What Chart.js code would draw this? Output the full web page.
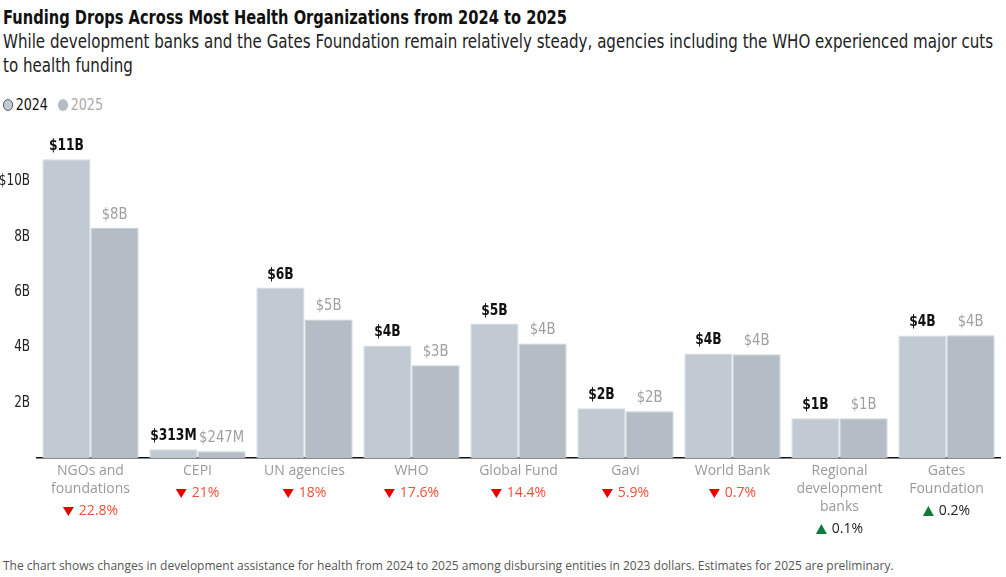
<!DOCTYPE html>
<html>
<head>
<meta charset="utf-8">
<script src="https://cdn.jsdelivr.net/npm/chart.js@4.4.1/dist/chart.umd.min.js"></script>
<style>
  body { margin: 0; background: #fff; width: 1006px; height: 577px; position: relative; overflow: hidden; font-family: "DejaVu Sans", sans-serif; }
  .fit { position: absolute; left: 3px; white-space: nowrap; transform-origin: 0 0; }
  #title { top: 5px; font-size: 20px; font-weight: bold; color: #111; }
  #sub1, #sub2 { font-size: 19px; color: #222; }
  #sub1 { top: 30px; }
  #sub2 { top: 54px; }
  #legend { top: 96px; font-size: 15px; display: flex; align-items: center; }
  .dot { width: 12px; height: 12px; border-radius: 50%; display: inline-block; margin-right: 3px; box-sizing: border-box; }
  #foot { position: absolute; left: 3px; top: 557px; font-family: "Open Sans", sans-serif; font-size: 12px; color: #555; white-space: nowrap; }
  #wrap { position: absolute; left: 0; top: 113px; width: 1006px; height: 427px; }
</style>
</head>
<body>
<div id="title" class="fit">Funding Drops Across Most Health Organizations from 2024 to 2025</div>
<div id="sub1" class="fit">While development banks and the Gates Foundation remain relatively steady, agencies including the WHO experienced major cuts</div>
<div id="sub2" class="fit">to health funding</div>
<div id="legend" class="fit">
  <span class="dot" style="background:#c1cad3;border:1px solid #555"></span><span style="color:#111">2024</span>
  <span class="dot" style="background:#b4bdc6;margin-left:12px"></span><span style="color:#aaa">2025</span>
</div>
<div id="wrap"><canvas id="chart"></canvas></div>
<div id="foot">The chart shows changes in development assistance for health from 2024 to 2025 among disbursing entities in 2023 dollars. Estimates for 2025 are preliminary.</div>
<script>
var categories = [
  ["NGOs and", "foundations"],
  ["CEPI"],
  ["UN agencies"],
  ["WHO"],
  ["Global Fund"],
  ["Gavi"],
  ["World Bank"],
  ["Regional", "development", "banks"],
  ["Gates", "Foundation"]
];
var values2024 = [10.8, 0.313, 6.16, 4.07, 4.86, 1.80, 3.78, 1.44, 4.43];
var values2025 = [8.32, 0.247, 5.01, 3.35, 4.14, 1.69, 3.75, 1.44, 4.44];
var labels2024 = ["$11B", "$313M", "$6B", "$4B", "$5B", "$2B", "$4B", "$1B", "$4B"];
var labels2025 = ["$8B", "$247M", "$5B", "$3B", "$4B", "$2B", "$4B", "$1B", "$4B"];
var changes = ["22.8%", "21%", "18%", "17.6%", "14.4%", "5.9%", "0.7%", "0.1%", "0.2%"];
var changeUp = [false, false, false, false, false, false, false, true, true];
var yTicks = [2, 4, 6, 8, 10];
var yTickLabels = ["2B", "4B", "6B", "8B", "$10B"];

// squeeze the header text to look like the condensed face of the original
function fitWidth(ids, target) {
  var w = document.getElementById(ids[0]).getBoundingClientRect().width;
  var s = target / w;
  ids.forEach(function(id) { document.getElementById(id).style.transform = 'scaleX(' + s + ')'; });
}
fitWidth(['title'], 564);
fitWidth(['sub1', 'sub2'], 990);
fitWidth(['legend'], 100);

var LINE = 18;
var catFont = '14px "Open Sans", sans-serif';

function squeezeText(ctx, txt, x, y, sx) {
  ctx.save();
  ctx.translate(x, y);
  ctx.scale(sx, 1);
  ctx.fillText(txt, 0, 0);
  ctx.restore();
}

var labelPlugin = {
  id: 'labelPlugin',
  afterDatasetsDraw: function(chart) {
    var ctx = chart.ctx;
    ctx.save();
    // y tick labels, placed by the y scale
    var ys = chart.scales.y;
    ctx.textAlign = 'right';
    ctx.textBaseline = 'middle';
    ctx.font = '15px "DejaVu Sans", sans-serif';
    ctx.fillStyle = '#222';
    yTicks.forEach(function(v, i) {
      squeezeText(ctx, yTickLabels[i], 30, ys.getPixelForValue(v), 0.8);
    });

    ctx.textAlign = 'center';
    ctx.textBaseline = 'alphabetic';
    chart.getDatasetMeta(0).data.forEach(function(bar, i) {
      ctx.font = 'bold 15px "DejaVu Sans", sans-serif';
      ctx.fillStyle = '#111';
      squeezeText(ctx, labels2024[i], bar.x, bar.y - 9, 0.82);
    });
    chart.getDatasetMeta(1).data.forEach(function(bar, i) {
      ctx.font = '15px "DejaVu Sans", sans-serif';
      ctx.fillStyle = '#a0a0a0';
      squeezeText(ctx, labels2025[i], bar.x, bar.y - 9, 0.88);
    });
    var xs = chart.scales.x;
    ctx.font = catFont;
    ctx.textBaseline = 'middle';
    categories.forEach(function(c, i) {
      var x = xs.getPixelForValue(i);
      var y = xs.top + 17 + c.length * LINE;
      var txt = changes[i];
      var tw = ctx.measureText(txt).width;
      var total = 11 + 5 + tw;
      var left = x - total / 2;
      ctx.fillStyle = changeUp[i] ? '#0d7a3a' : '#e60000';
      ctx.beginPath();
      if (changeUp[i]) {
        ctx.moveTo(left, y + 5); ctx.lineTo(left + 11, y + 5); ctx.lineTo(left + 5.5, y - 5);
      } else {
        ctx.moveTo(left, y - 4); ctx.lineTo(left + 11, y - 4); ctx.lineTo(left + 5.5, y + 5);
      }
      ctx.closePath();
      ctx.fill();
      ctx.fillStyle = changeUp[i] ? '#222' : '#f04e37';
      ctx.textAlign = 'left';
      ctx.fillText(txt, left + 16, y);
    });
    ctx.restore();
  }
};

var ctx = document.getElementById("chart").getContext("2d");
var myChart = new Chart(ctx, {
  type: 'bar',
  data: {
    labels: categories,
    datasets: [
      { label: '2024', data: values2024, backgroundColor: '#c1cad3', borderColor: '#d3d9df', borderWidth: 1, borderSkipped: 'bottom' },
      { label: '2025', data: values2025, backgroundColor: '#b4bdc6', borderColor: '#c8ced4', borderWidth: 1, borderSkipped: 'bottom' }
    ]
  },
  options: {
    animation: false,
    responsive: true,
    maintainAspectRatio: false,
    layout: { padding: { top: 13, right: 6, left: 0, bottom: 0 } },
    categoryPercentage: 0.9,
    barPercentage: 1.0,
    scales: {
      x: {
        grid: { display: false, drawTicks: false },
        border: { display: true, color: '#111', width: 1.5 },
        ticks: { color: '#999', font: { family: '"Open Sans", sans-serif', size: 14, lineHeight: LINE / 14 }, padding: 4, maxRotation: 0, autoSkip: false },
        afterFit: function(scale) { scale.height = 82; }
      },
      y: {
        min: 0, max: 12,
        grid: { display: false, drawTicks: false },
        border: { display: false },
        afterBuildTicks: function(scale) { scale.ticks = yTicks.map(function(v) { return { value: v }; }); },
        ticks: { display: false, font: { size: 13 } },
        afterFit: function(scale) { scale.width = 37; }
      }
    },
    plugins: {
      legend: { display: false },
      tooltip: { enabled: false }
    }
  },
  plugins: [labelPlugin]
});
</script>
</body>
</html>
